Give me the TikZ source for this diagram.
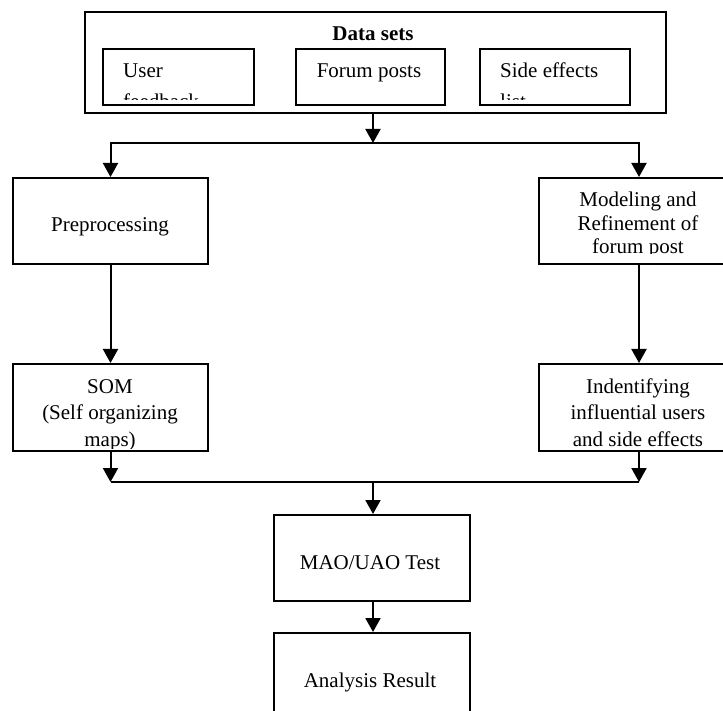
\documentclass[tikz,border=0pt]{standalone}
\usepackage{fontspec}
\setmainfont{Liberation Serif}
\usetikzlibrary{arrows.meta}
\begin{document}
\begin{tikzpicture}[x=1pt,y=-1pt,
  box/.style={draw,line width=2pt,inner sep=0pt,anchor=north west},
  lbl/.style={font=\fontsize{21}{24}\selectfont,inner sep=0pt,align=center},
  lbll/.style={font=\fontsize{21}{24}\selectfont,inner sep=0pt,align=left},
  arr/.style={line width=2pt,-{Triangle[width=15pt,length=14pt]}},
  ln/.style={line width=2pt}]
\useasboundingbox (0,0) rectangle (723,711);
\clip (0,0) rectangle (723,711);
% boxes
\node[box,minimum width=581pt,minimum height=101pt] (outer) at (84,11) {};
\node[box,minimum width=151pt,minimum height=56pt] (user) at (102,48) {};
\node[box,minimum width=149pt,minimum height=56pt] (forum) at (295,48) {};
\node[box,minimum width=150pt,minimum height=56pt] (side) at (479,48) {};
\node[box,minimum width=195pt,minimum height=86pt] (prep) at (12,177) {};
\node[box,minimum width=200pt,minimum height=86pt] (model) at (538,177) {};
\node[box,minimum width=195pt,minimum height=87pt] (som) at (12,363) {};
\node[box,minimum width=200pt,minimum height=87pt] (ident) at (538,363) {};
\node[box,minimum width=196pt,minimum height=86pt] (mao) at (273,514) {};
\node[box,minimum width=196pt,minimum height=90pt] (result) at (273,632) {};
% texts (anchor base = baseline of the last line)
\node[lbl,font=\fontsize{21}{24}\selectfont\bfseries,anchor=base] (dst) at (373,40.5) {Data sets};
\begin{scope}
\clip (user.north west) rectangle ([yshift=6pt]user.south east);
\node[lbll,font=\fontsize{21}{31}\selectfont,anchor=base west] (usert) at (123,109) {User\\feedback};
\end{scope}
\node[lbl,anchor=base] (forumt) at (369,78) {Forum posts};
\begin{scope}
\clip (side.north west) rectangle ([yshift=6pt]side.south east);
\node[lbll,font=\fontsize{21}{31}\selectfont,anchor=base west] (sidet) at (500,109) {Side effects\\list};
\end{scope}
\node[lbl,anchor=base] (prept) at (110,232) {Preprocessing};
\begin{scope}
\clip (model.north west) rectangle ([yshift=11.5pt]model.south east);
\node[lbl,font=\fontsize{21}{23.5}\selectfont,anchor=base] (modelt) at (638,254) {Modeling and\\Refinement of\\forum post};
\end{scope}
\begin{scope}
\clip (som.north west) rectangle ([yshift=4pt]som.south east);
\node[lbl,font=\fontsize{21}{26.5}\selectfont,anchor=base] (somt) at (110,446) {SOM\\(Self organizing\\maps)};
\end{scope}
\begin{scope}
\clip (ident.north west) rectangle ([yshift=4pt]ident.south east);
\node[lbl,font=\fontsize{21}{26.5}\selectfont,anchor=base] (identt) at (638,446) {Indentifying\\influential users\\and side effects};
\end{scope}
\node[lbl,anchor=base] (maot) at (370,569) {MAO/UAO Test};
\node[lbl,anchor=base] (resultt) at (370,687) {Analysis Result};
% connectors
\coordinate (tj) at (373,143);
\coordinate (bj) at (373,482);
\draw[arr] (outer.south -| tj) -- (tj);
\draw[arr] (tj) -| (prep.north);
\draw[arr] (tj) -| (model.north);
\draw[arr] (prep.south) -- (som.north);
\draw[arr] (model.south) -- (ident.north);
\draw[arr] (som.south) -- (som.south |- bj);
\draw[arr] (ident.south) -- (ident.south |- bj);
\draw[ln] (som.south |- bj) -- (ident.south |- bj);
\draw[arr] (bj) -- (bj |- mao.north);
\draw[arr] (mao.south -| bj) -- (bj |- result.north);
\end{tikzpicture}
\end{document}
